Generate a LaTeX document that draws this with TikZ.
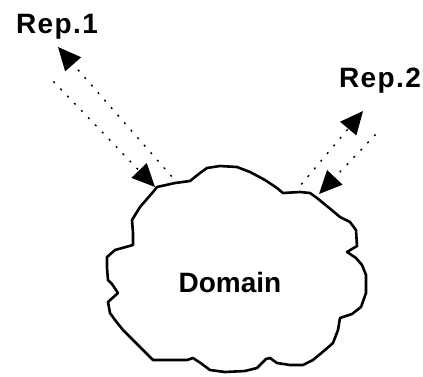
\documentclass[tikz,border=0pt]{standalone}
\usepackage{fontspec}
\setsansfont{Liberation Sans}
\usetikzlibrary{arrows.meta}

\begin{document}
\begin{tikzpicture}
                [x=1pt, y=-1pt,
                lsty/.style={font=\sffamily\bfseries\fontsize{28}{28}\selectfont, inner sep=0pt, anchor=base},
                rsty/.style={lsty, font=\sffamily\bfseries\fontsize{28}{28}\selectfont\addfontfeature{LetterSpace=5}},
                csty/.style={line width=2.6pt, line join=round},
                asty/.style={-{Triangle[length=23pt, width=21pt]}, line width=1.4pt, dash pattern=on 2pt off 8pt, shorten <=2pt}]
                \useasboundingbox (0,0) rectangle (423,376);
                % cloud
                \draw[csty] (157,187) -- (175,183) -- (190,181) -- (200,173) -- (207,168) -- (220,166)
                  -- (237,167) -- (250,172) -- (265,180) -- (277,188) -- (283,193) -- (300,192)
                  -- (310,193) -- (317,198) -- (328,207) -- (340,217) -- (350,222) -- (356,230)
                  -- (357,246) -- (347,252) -- (356,258) -- (362,265) -- (366,275) -- (366,293)
                  -- (361,307) -- (352,314) -- (340,318) -- (338,330) -- (333,343) -- (325,350)
                  -- (313,360) -- (303,365) -- (290,365) -- (277,363) -- (270,358) -- (266,359)
                  -- (257,368) -- (245,371) -- (225,372) -- (210,370) -- (202,364) -- (193,358)
                  -- (187,360) -- (170,360) -- (153,360) -- (140,347) -- (123,330) -- (115,320)
                  -- (110,313) -- (108,302) -- (118,293) -- (112,284) -- (108,280) -- (107,268)
                  -- (107,257) -- (115,250) -- (133,245) -- (133,233) -- (132,220) -- (140,207)
                  -- (153,192) -- cycle;
                \node[lsty] (dom) at (230,292) {Domain};
                % replicas
                \node[rsty] (rep1) at (57,33) {Rep.1};
                \node[rsty] (rep2) at (380,87) {Rep.2};
                % ends of the links
                \coordinate (r1in) at (52,80);
                \coordinate (r1out) at (58,47);
                \coordinate (c1in) at (155,187);
                \coordinate (c1out) at (173,178);
                \coordinate (r2in) at (377,133);
                \coordinate (r2out) at (363,111);
                \coordinate (c2in) at (319,194);
                \coordinate (c2out) at (300,186);
                % links
                \draw[asty] (r1in) -- (c1in);
                \draw[asty] (c1out) -- (r1out);
                \draw[asty] (c2out) -- (r2out);
                \draw[asty] (r2in) -- (c2in);
            \end{tikzpicture}
\end{document}
